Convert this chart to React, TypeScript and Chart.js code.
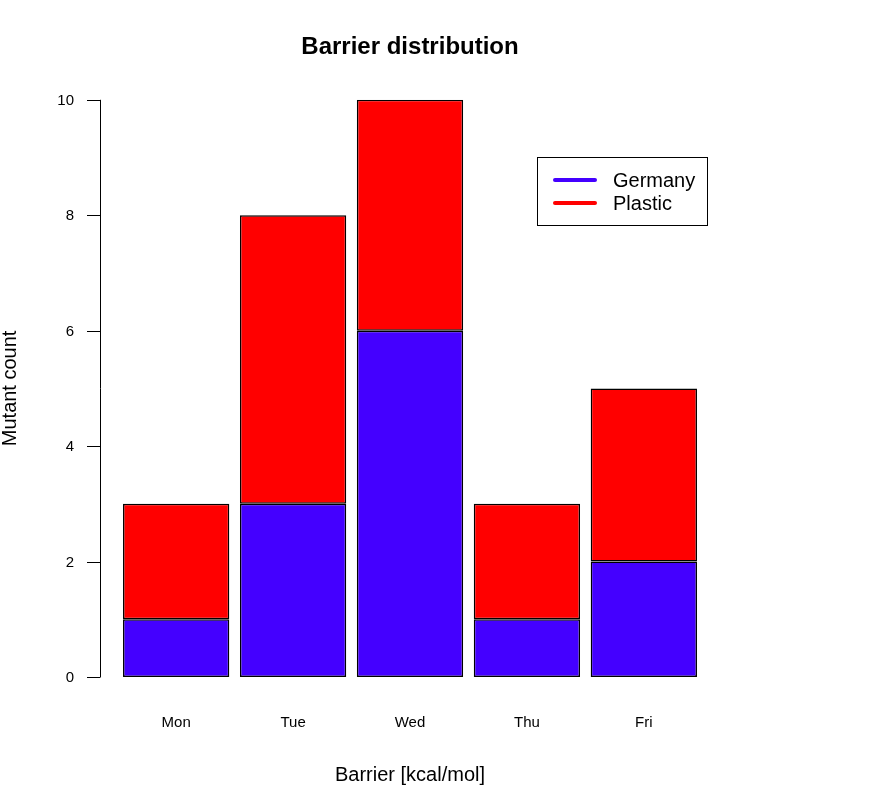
import React, { useEffect, useRef } from "react";
import { Chart, registerables } from "chart.js";

Chart.register(...registerables);

const categories = ["Mon", "Tue", "Wed", "Thu", "Fri"];
const germany = [1, 3, 6, 1, 2];
const plastic = [2, 5, 4, 2, 3];
const yTicks = [0, 2, 4, 6, 8, 10];
const seriesNames = ["Germany", "Plastic"];
const seriesColors = ["#4400FF", "#FF0000"];
const chartTitle = "Barrier distribution";
const xTitle = "Barrier [kcal/mol]";
const yTitle = "Mutant count";

const FONT = "'Liberation Sans', Arial, Helvetica, sans-serif";

const rAxisPlugin = {
  id: "rAxis",
  afterDraw(chart: any) {
    const ctx = chart.ctx;
    const y = chart.scales.y;
    const axisX = 100;
    ctx.save();
    ctx.strokeStyle = "#000";
    ctx.lineWidth = 1;
    ctx.beginPath();
    ctx.moveTo(axisX + 0.5, y.getPixelForValue(yTicks[0]));
    ctx.lineTo(axisX + 0.5, y.getPixelForValue(yTicks[yTicks.length - 1]));
    ctx.stroke();
    ctx.font = `15px ${FONT}`;
    ctx.fillStyle = "#000";
    ctx.textAlign = "right";
    ctx.textBaseline = "middle";
    for (const v of yTicks) {
      const py = Math.round(y.getPixelForValue(v)) + 0.5;
      ctx.beginPath();
      ctx.moveTo(axisX - 13, py);
      ctx.lineTo(axisX + 0.5, py);
      ctx.stroke();
      ctx.fillText(String(v), 74, py);
    }
    // y title
    ctx.save();
    ctx.translate(10, (y.top + y.bottom) / 2);
    ctx.rotate(-Math.PI / 2);
    ctx.textAlign = "center";
    ctx.textBaseline = "middle";
    ctx.font = `20px ${FONT}`;
    ctx.fillText(yTitle, 0, 0);
    ctx.restore();

    // legend
    const lx = 537, ly = 157, lw = 170, lh = 68;
    ctx.fillStyle = "#fff";
    ctx.fillRect(lx, ly, lw, lh);
    ctx.strokeStyle = "#000";
    ctx.lineWidth = 1;
    ctx.strokeRect(lx + 0.5, ly + 0.5, lw, lh);
    ctx.font = `20px ${FONT}`;
    ctx.textAlign = "left";
    ctx.textBaseline = "middle";
    const rows = [180, 203];
    chart.data.datasets.forEach((ds: any, i: number) => {
      ctx.strokeStyle = ds.backgroundColor;
      ctx.lineWidth = 4;
      ctx.lineCap = "round";
      ctx.beginPath();
      ctx.moveTo(555, rows[i]);
      ctx.lineTo(595, rows[i]);
      ctx.stroke();
      ctx.fillStyle = "#000";
      ctx.fillText(ds.label, 613, rows[i] + 1);
    });
    ctx.restore();
  },
};

export default function App() {
  const ref = useRef<HTMLCanvasElement>(null);
  useEffect(() => {
    if (!ref.current) return;
    const chart = new Chart(ref.current, {
      type: "bar",
      data: {
        labels: categories,
        datasets: [
          {
            label: seriesNames[0],
            data: germany,
            backgroundColor: seriesColors[0],
            borderColor: "#000",
            borderWidth: 1.5,
            borderSkipped: false,
          },
          {
            label: seriesNames[1],
            data: plastic,
            backgroundColor: seriesColors[1],
            borderColor: "#000",
            borderWidth: 1.5,
            borderSkipped: false,
          },
        ],
      },
      options: {
        animation: false,
        responsive: false,
        maintainAspectRatio: false,
        layout: { padding: { left: 117.7, right: 169.7, top: 33, bottom: 21 } },
        datasets: { bar: { barPercentage: 1 / 1.1, categoryPercentage: 1 } },
        plugins: {
          legend: { display: false },
          tooltip: { enabled: false },
          title: {
            display: true,
            text: chartTitle,
            fullSize: false,
            color: "#000",
            font: { family: FONT, size: 24, weight: "bold" },
            padding: { top: 0, bottom: 38 },
          },
        },
        scales: {
          x: {
            stacked: true,
            offset: true,
            grid: { display: false, drawTicks: false },
            border: { display: false },
            ticks: { color: "#000", padding: 37, font: { family: FONT, size: 15 } },
            title: {
              display: true,
              text: xTitle,
              color: "#000",
              font: { family: FONT, size: 20 },
              padding: { top: -6, bottom: 0 },
            },
          },
          y: {
            stacked: true,
            display: false,
            min: 0,
            max: 10,
          },
        },
      },
      plugins: [rAxisPlugin],
    });
    return () => chart.destroy();
  }, []);
  return (
    <div style={{ position: "absolute", left: 0, top: 0, width: 872, height: 808, background: "#fff" }}>
      <canvas ref={ref} width={872} height={808} style={{ display: "block", width: 872, height: 808 }} />
    </div>
  );
}
